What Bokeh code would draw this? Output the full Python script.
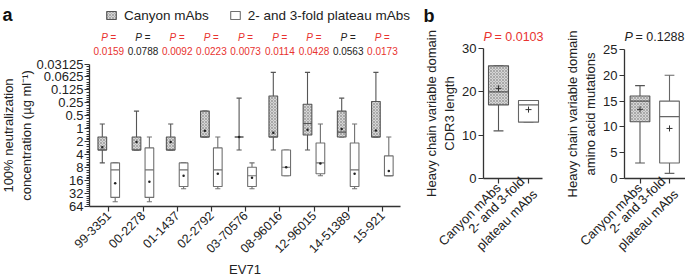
import math
from bokeh.plotting import figure
from bokeh.models import (Range1d, FixedTicker, CustomJSTickFormatter, Legend, LegendItem,
                          LinearAxis, LogAxis, LogScale, LinearScale)
from bokeh.core.properties import value
from bokeh.embed import file_html
from bokeh.resources import INLINE

FONT = "Liberation Sans"
RED = "#e8332f"
AXIS = "#333333"
TXT = "#222222"

# ---------------- panel a data (µg/ml) ----------------
strains = ["99-3351", "00-2278", "01-1437", "02-2792", "03-70576",
           "08-96016", "12-96015", "14-51389", "15-921"]
p_values = ["0.0159", "0.0788", "0.0092", "0.0223", "0.0073",
            "0.0114", "0.0428", "0.0563", "0.0173"]
y_ticks_a = [0.03125, 0.0625, 0.125, 0.25, 0.5, 1, 2, 4, 8, 16, 32, 64]

canyon_min = [0.78, 0.39, 0.78, 0.39, 0.195, 0.049, 0.049, 0.195, 0.049]
canyon_q1 = [1.5625, 1.5625, 1.5625, 0.39, 1.5625, 0.173, 0.27, 0.39, 0.234]
canyon_med = [3.125, 3.125, 3.125, 1.5625, 1.5625, 1.5625, 0.757, 1.2, 1.5625]
canyon_q3 = [3.125, 3.125, 3.125, 1.5625, 1.5625, 1.5625, 1.40, 1.5625, 1.5625]
canyon_max = [6.25, 3.125, 3.125, 1.5625, 3.125, 3.125, 3.125, 1.5625, 1.5625]
canyon_mean = [2.72, 2.04, 2.04, 1.12, 1.5625, 1.24, 1.06, 1.02, 1.1]

plateau_min = [6.25, 1.5625, 6.25, 1.5625, 6.25, 3.125, 0.78, 0.78, 1.5625]
plateau_q1 = [6.25, 2.8, 6.25, 2.8, 7.9, 3.125, 2.15, 2.15, 4.3]
plateau_med = [9.1, 9.1, 9.1, 9.1, 12.5, 7.9, 6.25, 9.1, 12.5]
plateau_q3 = [39.7, 39.7, 22.1, 22.1, 22.1, 12.5, 11.2, 22.1, 12.5]
plateau_max = [50, 50, 25, 25, 25, 12.5, 12.5, 25, 12.5]
plateau_mean = [18.5, 17.2, 12.5, 11.2, 13.9, 7.9, 6.5, 11.2, 9.6]

# ---------------- panel b data ----------------
groups_b = ["Canyon mAbs", "2- and 3-fold\nplateau mAbs"]
cdr3_min = [11, 13]
cdr3_q1 = [17, 13]
cdr3_med = [20, 17]
cdr3_q3 = [26, 18]
cdr3_max = [26, 18]
cdr3_mean = [20.8, 15.9]
cdr3_p = "0.0103"
cdr3_ticks = [0, 10, 20, 30]

mut_min = [3, 1]
mut_q1 = [11, 3]
mut_med = [15, 12]
mut_q3 = [16, 15]
mut_max = [18, 20]
mut_mean = [13.4, 9.7]
mut_p = "0.1288"
mut_ticks = [0, 5, 10, 15, 20, 25]

# ---------------- layout (canvas pixels, y down) ----------------
W, H = 685, 279


def lin_x(v1, p1, v2, p2):
    k = (v2 - v1) / (p2 - p1)
    return v1 - p1 * k, v1 + (W - p1) * k


def lin_y(v1, p1, v2, p2):
    k = (v2 - v1) / (p2 - p1)
    return v1 + (H - p1) * k, v1 - p1 * k


# panel a geometry
A_AX_X, A_TOP, A_BOT, A_RIGHT = 89, 63.5, 205.8, 400
A_T1, A_STEP = 108.3, 34.2
ax_start, ax_end = lin_x(1, A_T1, 2, A_T1 + A_STEP)
ly0, ly1 = lin_y(math.log2(y_ticks_a[0]), A_TOP, math.log2(y_ticks_a[-1]), A_BOT)
ay_start, ay_end = 2 ** ly0, 2 ** ly1

# panel b geometry
B1_AX_X, B1_T1, B1_STEP, B1_RIGHT, B1_TOP = 483, 498, 30, 542, 48
B2_AX_X, B2_T1, B2_STEP, B2_RIGHT, B2_TOP = 624, 639.5, 29.5, 685, 49
B_BOT = 178

b1x = lin_x(1, B1_T1, 2, B1_T1 + B1_STEP)
b1y = lin_y(cdr3_ticks[-1], B1_TOP, 0, B_BOT)
b2x = lin_x(1, B2_T1, 2, B2_T1 + B2_STEP)
b2y = lin_y(mut_ticks[-1], B2_TOP, 0, B_BOT)

p = figure(width=W, height=H, x_range=Range1d(0, W), y_range=Range1d(H, 0),
           x_axis_location=None, y_axis_location=None,
           output_backend="svg", toolbar_location=None,
           min_border=0, min_border_left=0, min_border_right=0,
           min_border_top=0, min_border_bottom=0,
           extra_x_ranges={"ax": Range1d(ax_start, ax_end),
                           "b1x": Range1d(*b1x), "b2x": Range1d(*b2x)},
           extra_y_ranges={"ay": Range1d(ay_start, ay_end),
                           "b1y": Range1d(*b1y), "b2y": Range1d(*b2y)},
           extra_x_scales={"ax": LinearScale(), "b1x": LinearScale(), "b2x": LinearScale()},
           extra_y_scales={"ay": LogScale(), "b1y": LinearScale(), "b2y": LinearScale()})
p.grid.visible = False
p.outline_line_color = None
p.background_fill_color = "white"
p.border_fill_color = "white"


def style_axis(ax, fs="13px"):
    ax.axis_line_color = AXIS
    ax.axis_line_width = 1.3
    ax.major_tick_line_color = AXIS
    ax.major_tick_line_width = 1.2
    ax.major_tick_out = 5
    ax.major_tick_in = 0
    ax.minor_tick_line_color = AXIS
    ax.minor_tick_out = 3
    ax.minor_tick_in = 0
    ax.major_label_text_font = FONT
    ax.major_label_text_font_size = fs
    ax.major_label_text_color = TXT
    ax.axis_label_text_font = FONT
    ax.axis_label_text_font_size = "13px"
    ax.axis_label_text_font_style = "normal"
    ax.axis_label_text_color = TXT
    ax.major_label_standoff = 2
    ax.axis_label_standoff = 2


HATCH = dict(fill_color="#d6d6d6", hatch_pattern="x", hatch_color="#8c8c8c",
             hatch_scale=3, hatch_weight=0.6)


def draw_boxes(xs, w, cap, mn, q1, med, q3, mx, mean, fill, line_color, mean_marker,
               mean_size, xr, yr):
    kw = dict(x_range_name=xr, y_range_name=yr)
    half = w / 2.0
    p.segment(x0=xs, y0=mn, x1=xs, y1=q1, line_color=line_color, line_width=1.1, **kw)
    p.segment(x0=xs, y0=q3, x1=xs, y1=mx, line_color=line_color, line_width=1.1, **kw)
    p.segment(x0=[x - cap / 2 for x in xs], y0=mn, x1=[x + cap / 2 for x in xs], y1=mn,
              line_color=line_color, line_width=1.1, **kw)
    p.segment(x0=[x - cap / 2 for x in xs], y0=mx, x1=[x + cap / 2 for x in xs], y1=mx,
              line_color=line_color, line_width=1.1, **kw)
    if fill:
        r = p.vbar(x=xs, width=w, top=q3, bottom=q1, line_color=line_color, line_width=1.1,
                   **HATCH, **kw)
    else:
        r = p.vbar(x=xs, width=w, top=q3, bottom=q1, fill_color="white",
                   line_color=line_color, line_width=1.1, **kw)
    p.segment(x0=[x - half for x in xs], y0=med, x1=[x + half for x in xs], y1=med,
              line_color=line_color, line_width=1.1, **kw)
    if mean_marker == "dot":
        p.scatter(x=xs, y=mean, marker="circle", size=mean_size, fill_color="#222222",
                  line_color=None, **kw)
    else:
        p.scatter(x=xs, y=mean, marker="cross", size=mean_size, line_color="#333333",
                  line_width=1, **kw)
    return r


# ================= panel a =================
pos = list(range(1, len(strains) + 1))
xc = [x - 0.19 for x in pos]
xp = [x + 0.187 for x in pos]
r_can = draw_boxes(xc, 0.254, 0.15, canyon_min, canyon_q1, canyon_med, canyon_q3,
                   canyon_max, canyon_mean, True, "#555555", "dot", 2.5, "ax", "ay")
r_pla = draw_boxes(xp, 0.254, 0.15, plateau_min, plateau_q1, plateau_med, plateau_q3,
                   plateau_max, plateau_mean, False, "#707070", "dot", 2.5, "ax", "ay")

minor = []
for k in range(-5, 6):
    base = 2.0 ** k
    for j in range(1, 6):
        minor.append(base + j * base / 6.0)

ya = LogAxis(y_range_name="ay", fixed_location=A_AX_X, bounds=(y_ticks_a[0], y_ticks_a[-1]))
style_axis(ya)
ya.major_label_standoff = 1
ya.axis_label_standoff = 0
ya.ticker = FixedTicker(ticks=y_ticks_a, minor_ticks=minor)
ya.formatter = CustomJSTickFormatter(code="return String(tick);")
ya.axis_label = "100% neutralization\nconcentration (\u00b5g ml\u207b\u00b9)"
p.add_layout(ya, "left")

xa_lo = 1 + (A_AX_X - A_T1) / A_STEP
xa_hi = 1 + (A_RIGHT - A_T1) / A_STEP
xa = LinearAxis(x_range_name="ax", fixed_location=A_BOT, bounds=(xa_lo, xa_hi))
style_axis(xa, "12.5px")
xa.ticker = FixedTicker(ticks=pos)
xa.major_label_overrides = {i + 1: s for i, s in enumerate(strains)}
xa.major_label_orientation = math.pi / 4
xa.minor_tick_line_color = None
xa.axis_label = "EV71"
p.add_layout(xa, "below")

# P values above each strain
p_cols = [RED if float(v) < 0.05 else TXT for v in p_values]
p.text(x=pos, y=[36.7] * len(pos), text=["P ="] * len(pos), x_range_name="ax",
       text_align="center", text_baseline="middle", text_font=value(FONT),
       text_font_size=value("10px"), text_font_style="italic", text_color=p_cols)
p.text(x=pos, y=[50] * len(pos), text=p_values, x_range_name="ax",
       text_align="center", text_baseline="middle", text_font=value(FONT),
       text_font_size=value("10px"), text_color=p_cols)

legend = Legend(items=[LegendItem(label="Canyon mAbs", renderers=[r_can]),
                       LegendItem(label="2- and 3-fold plateau mAbs", renderers=[r_pla])],
                location=(105, H - 7.5 - 15), orientation="horizontal",
                glyph_width=12, glyph_height=10, label_standoff=7, spacing=20,
                padding=0, margin=0, border_line_color=None, background_fill_alpha=0,
                label_text_font=FONT, label_text_font_size="13.5px", label_text_color=TXT)
p.add_layout(legend)

p.text(x=[2, 423], y=[4, 5], text=["a", "b"], text_baseline="top",
       text_font=value(FONT), text_font_size=value("18px"), text_font_style="bold",
       text_color="#111111")


# ================= panel b =================
def panel_b(tag, ax_x, right, t1, step, ticks, ylabel, mn, q1, med, q3, mx, mean, ptxt):
    xr, yr = tag + "x", tag + "y"
    draw_boxes([1], 0.667, 0.33, mn[:1], q1[:1], med[:1], q3[:1], mx[:1], mean[:1],
               True, "#555555", "cross", 6, xr, yr)
    draw_boxes([2], 0.667, 0.33, mn[1:], q1[1:], med[1:], q3[1:], mx[1:], mean[1:],
               False, "#666666", "cross", 6, xr, yr)
    yax = LinearAxis(y_range_name=yr, fixed_location=ax_x, bounds=(ticks[0], ticks[-1]))
    style_axis(yax)
    yax.ticker = FixedTicker(ticks=ticks)
    yax.minor_tick_line_color = None
    yax.axis_label = ylabel
    p.add_layout(yax, "left")
    xax = LinearAxis(x_range_name=xr, fixed_location=B_BOT,
                     bounds=(1 + (ax_x - t1) / step, 1 + (right - t1) / step))
    style_axis(xax)
    xax.ticker = FixedTicker(ticks=[1, 2])
    xax.minor_tick_line_color = None
    xax.major_label_overrides = {1: groups_b[0], 2: groups_b[1]}
    xax.major_label_orientation = math.pi / 4
    p.add_layout(xax, "below")
    col = RED if float(ptxt) < 0.05 else TXT
    p.text(x=[ax_x], y=[36], text=["P"], text_baseline="middle", text_font=value(FONT),
           text_font_size=value("12.5px"), text_font_style="italic", text_color=col)
    p.text(x=[ax_x + 11], y=[36], text=["= " + ptxt], text_baseline="middle",
           text_font=value(FONT), text_font_size=value("12.5px"), text_color=col)


panel_b("b1", B1_AX_X, B1_RIGHT, B1_T1, B1_STEP, cdr3_ticks,
        "Heavy chain variable domain\nCDR3 length",
        cdr3_min, cdr3_q1, cdr3_med, cdr3_q3, cdr3_max, cdr3_mean, cdr3_p)
panel_b("b2", B2_AX_X, B2_RIGHT, B2_T1, B2_STEP, mut_ticks,
        "Heavy chain variable domain\namino acid mutations",
        mut_min, mut_q1, mut_med, mut_q3, mut_max, mut_mean, mut_p)

open("out.html", "w").write(file_html(p, INLINE))
